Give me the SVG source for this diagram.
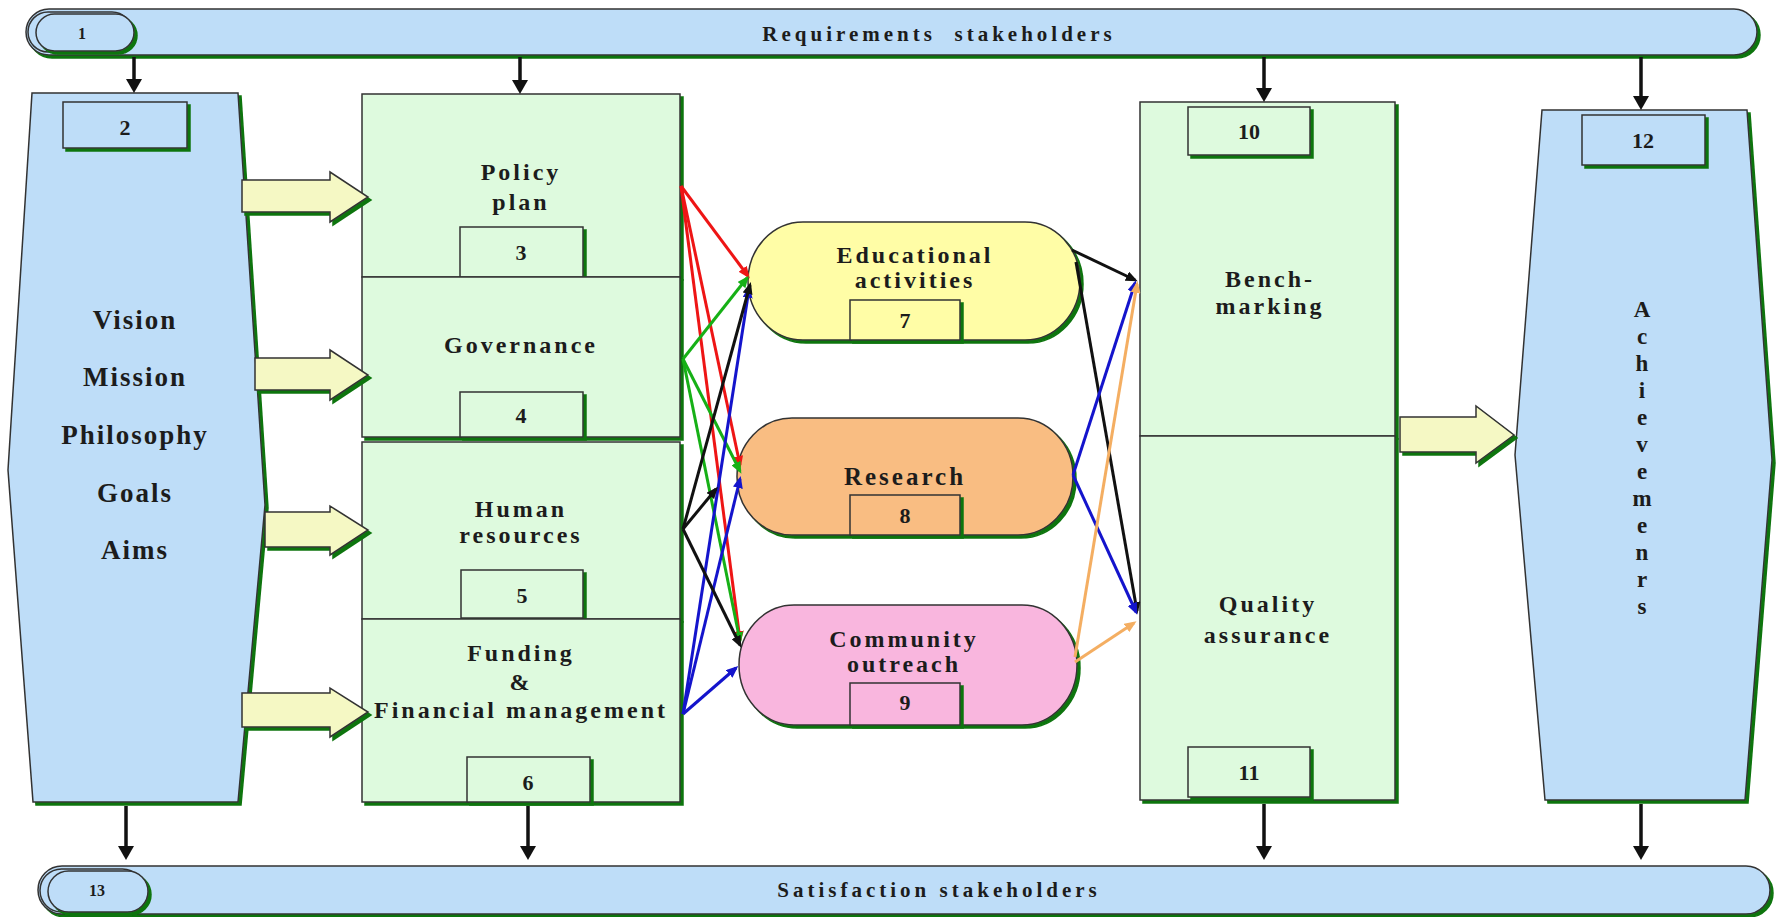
<svg xmlns="http://www.w3.org/2000/svg" width="1783" height="917" viewBox="0 0 1783 917">
  <defs>
    <style>
      .t{font-family:"Liberation Serif","Times New Roman",serif;font-weight:bold;fill:#1c1c1c;text-anchor:middle}
      .big{font-size:27px;letter-spacing:2px}
      .mid{font-size:24px;letter-spacing:3px}
      .res{font-size:25px;letter-spacing:3px}
      .num{font-size:22px}
      .vt{font-size:23px}
      .ban{font-size:21px;letter-spacing:4px}
      .tag{font-size:16px}
      .edge{stroke:#333;stroke-width:1.5}
      .blue{fill:#BEDDF8}
      .green{fill:#DEFADE}
      .blk{fill:#F5F8C4;stroke:#333;stroke-width:1.5;filter:url(#sh)}
      .v{stroke:#111;stroke-width:3.5;fill:none;marker-end:url(#mv)}
      .f{fill:none;stroke-width:3}
      .r{stroke:#EE1515;marker-end:url(#mr)}
      .g{stroke:#16B016;marker-end:url(#mg)}
      .k{stroke:#111;marker-end:url(#mk)}
      .b{stroke:#1414CC;marker-end:url(#mb)}
      .o{stroke:#F4AE62;marker-end:url(#mo)}
    </style>
    <!-- flat dark-green drop shadow used on every shape -->
    <filter id="sh" x="-5%" y="-5%" width="115%" height="115%">
      <feFlood flood-color="#0b740b" result="f"/>
      <feComposite in="f" in2="SourceAlpha" operator="in" result="s"/>
      <feOffset in="s" dx="3" dy="3" result="o"/>
      <feMerge><feMergeNode in="o"/><feMergeNode in="SourceGraphic"/></feMerge>
    </filter>
    <marker id="mv" viewBox="0 0 14 16" refX="6" refY="8" markerWidth="14" markerHeight="16" orient="auto" markerUnits="userSpaceOnUse"><path d="M0,0 L14,8 L0,16 z" fill="#111"/></marker>
    <marker id="mr" viewBox="0 0 12 10" refX="9" refY="5" markerWidth="12" markerHeight="10" orient="auto" markerUnits="userSpaceOnUse"><path d="M0,0 L12,5 L0,10 z" fill="#EE1515"/></marker>
    <marker id="mg" viewBox="0 0 12 10" refX="9" refY="5" markerWidth="12" markerHeight="10" orient="auto" markerUnits="userSpaceOnUse"><path d="M0,0 L12,5 L0,10 z" fill="#16B016"/></marker>
    <marker id="mk" viewBox="0 0 12 10" refX="9" refY="5" markerWidth="12" markerHeight="10" orient="auto" markerUnits="userSpaceOnUse"><path d="M0,0 L12,5 L0,10 z" fill="#111"/></marker>
    <marker id="mb" viewBox="0 0 12 10" refX="9" refY="5" markerWidth="12" markerHeight="10" orient="auto" markerUnits="userSpaceOnUse"><path d="M0,0 L12,5 L0,10 z" fill="#1414CC"/></marker>
    <marker id="mo" viewBox="0 0 12 10" refX="9" refY="5" markerWidth="12" markerHeight="10" orient="auto" markerUnits="userSpaceOnUse"><path d="M0,0 L12,5 L0,10 z" fill="#F4AE62"/></marker>
  </defs>

  <rect width="1783" height="917" fill="#fff"/>

  <!-- 1: top banner -->
  <g id="n1">
    <rect x="26" y="9" width="1731" height="46" rx="23" class="blue edge" filter="url(#sh)"/>
    <rect x="28" y="12" width="104" height="40" rx="20" class="blue edge"/>
    <rect x="36" y="14" width="98" height="37" rx="18.5" class="blue edge" filter="url(#sh)"/>
    <text x="82" y="39" class="t tag">1</text>
    <text x="939" y="41" class="t ban" xml:space="preserve">Requirements  stakeholders</text>
  </g>

  <!-- 2: vision / mission block -->
  <g id="n2">
    <path d="M32,93 H238 L265,505 L238,802 H33 L8,470 Z" class="blue edge" filter="url(#sh)"/>
    <rect x="63" y="102" width="124" height="46" class="blue edge" filter="url(#sh)"/>
    <text x="125" y="135" class="t num">2</text>
    <text x="135" y="329" class="t big">Vision</text>
    <text x="135" y="386" class="t big">Mission</text>
    <text x="135" y="444" class="t big">Philosophy</text>
    <text x="135" y="502" class="t big">Goals</text>
    <text x="135" y="559" class="t big">Aims</text>
  </g>

  <!-- 3-6: management column -->
  <g id="n3">
    <rect x="362" y="94" width="318" height="183" class="green edge" filter="url(#sh)"/>
    <text x="521" y="180" class="t mid">Policy</text>
    <text x="521" y="210" class="t mid">plan</text>
    <rect x="460" y="227" width="123" height="50" class="green edge" filter="url(#sh)"/>
    <text x="521" y="260" class="t num">3</text>
  </g>
  <g id="n4">
    <rect x="362" y="277" width="318" height="160" class="green edge" filter="url(#sh)"/>
    <text x="521" y="353" class="t mid">Governance</text>
    <rect x="460" y="392" width="123" height="45" class="green edge" filter="url(#sh)"/>
    <text x="521" y="423" class="t num">4</text>
  </g>
  <g id="n5">
    <rect x="362" y="442" width="318" height="177" class="green edge" filter="url(#sh)"/>
    <text x="521" y="517" class="t mid">Human</text>
    <text x="521" y="543" class="t mid">resources</text>
    <rect x="461" y="570" width="122" height="48" class="green edge" filter="url(#sh)"/>
    <text x="522" y="603" class="t num">5</text>
  </g>
  <g id="n6">
    <rect x="362" y="619" width="318" height="183" class="green edge" filter="url(#sh)"/>
    <text x="521" y="661" class="t mid">Funding</text>
    <text x="521" y="690" class="t mid">&amp;</text>
    <text x="521" y="718" class="t mid">Financial management</text>
    <rect x="467" y="757" width="123" height="45" class="green edge" filter="url(#sh)"/>
    <text x="528" y="790" class="t num">6</text>
  </g>

  <!-- 7-9: activities -->
  <g id="n7">
    <rect x="748" y="222" width="332" height="118" rx="55" ry="59" fill="#FFFDA6" class="edge" filter="url(#sh)"/>
    <text x="915" y="263" class="t mid">Educational</text>
    <text x="915" y="288" class="t mid">activities</text>
    <rect x="850" y="300" width="110" height="40" fill="#FFFDA6" class="edge" filter="url(#sh)"/>
    <text x="905" y="328" class="t num">7</text>
  </g>
  <g id="n8">
    <rect x="737" y="418" width="336" height="117" rx="55" ry="58" fill="#F9BD82" class="edge" filter="url(#sh)"/>
    <text x="905" y="485" class="t res">Research</text>
    <rect x="850" y="495" width="110" height="40" fill="#F9BD82" class="edge" filter="url(#sh)"/>
    <text x="905" y="523" class="t num">8</text>
  </g>
  <g id="n9">
    <rect x="739" y="605" width="338" height="120" rx="55" ry="60" fill="#F9B6DE" class="edge" filter="url(#sh)"/>
    <text x="904" y="647" class="t mid">Community</text>
    <text x="904" y="672" class="t mid">outreach</text>
    <rect x="850" y="683" width="110" height="42" fill="#F9B6DE" class="edge" filter="url(#sh)"/>
    <text x="905" y="710" class="t num">9</text>
  </g>

  <!-- 10-11: evaluation column -->
  <g id="n10">
    <rect x="1140" y="102" width="255" height="334" class="green edge" filter="url(#sh)"/>
    <rect x="1188" y="107" width="122" height="48" class="green edge" filter="url(#sh)"/>
    <text x="1249" y="139" class="t num">10</text>
    <text x="1270" y="287" class="t mid">Bench-</text>
    <text x="1270" y="314" class="t mid">marking</text>
  </g>
  <g id="n11">
    <rect x="1140" y="436" width="255" height="364" class="green edge" filter="url(#sh)"/>
    <text x="1268" y="612" class="t mid">Quality</text>
    <text x="1268" y="643" class="t mid">assurance</text>
    <rect x="1188" y="747" width="122" height="50" class="green edge" filter="url(#sh)"/>
    <text x="1249" y="780" class="t num">11</text>
  </g>

  <!-- 12: achievements -->
  <g id="n12">
    <path d="M1542,110 H1747 L1772,460 L1745,800 H1545 L1515,455 Z" class="blue edge" filter="url(#sh)"/>
    <rect x="1582" y="115" width="123" height="50" class="blue edge" filter="url(#sh)"/>
    <text x="1643" y="148" class="t num">12</text>
    <text x="1642" y="317" class="t vt">
      <tspan x="1642">A</tspan><tspan x="1642" dy="27">c</tspan><tspan x="1642" dy="27">h</tspan><tspan x="1642" dy="27">i</tspan><tspan x="1642" dy="27">e</tspan><tspan x="1642" dy="27">v</tspan><tspan x="1642" dy="27">e</tspan><tspan x="1642" dy="27">m</tspan><tspan x="1642" dy="27">e</tspan><tspan x="1642" dy="27">n</tspan><tspan x="1642" dy="27">r</tspan><tspan x="1642" dy="27">s</tspan>
    </text>
  </g>

  <!-- 13: bottom banner -->
  <g id="n13">
    <rect x="38" y="866" width="1732" height="48" rx="24" class="blue edge" filter="url(#sh)"/>
    <rect x="40" y="869" width="104" height="43" rx="21.5" class="blue edge"/>
    <rect x="48" y="871" width="100" height="41" rx="20.5" class="blue edge" filter="url(#sh)"/>
    <text x="97" y="896" class="t tag">13</text>
    <text x="939" y="897" class="t ban">Satisfaction stakeholders</text>
  </g>

  <g id="connectors">
    <!-- stakeholder arrows -->
    <path class="v" d="M134,57 V85"/>
    <path class="v" d="M520,57 V86"/>
    <path class="v" d="M1264,57 V94"/>
    <path class="v" d="M1641,57 V102"/>
    <path class="v" d="M126,806 V852"/>
    <path class="v" d="M528,806 V852"/>
    <path class="v" d="M1264,804 V852"/>
    <path class="v" d="M1641,804 V852"/>

    <!-- block arrows -->
    <path class="blk" d="M242,180 H330 V172 L368,197 L330,222 V212 H242 Z"/>
    <path class="blk" d="M255,358 H330 V350 L368,375 L330,400 V390 H255 Z"/>
    <path class="blk" d="M265,512 H330 V506 L368,530 L330,555 V547 H265 Z"/>
    <path class="blk" d="M242,693 H330 V688 L368,712 L330,737 V727 H242 Z"/>
    <path class="blk" d="M1400,417 H1476 V406 L1514,435 L1476,463 V452 H1400 Z"/>

    <!-- resources to activities -->
    <path class="f r" d="M681,186 L748,276"/>
    <path class="f r" d="M681,186 L740,465"/>
    <path class="f r" d="M681,186 L740,640"/>
    <path class="f g" d="M683,359 L747,278"/>
    <path class="f g" d="M683,359 L740,471"/>
    <path class="f g" d="M683,359 L740,641"/>
    <path class="f b" d="M683,714 L749,289"/>
    <path class="f b" d="M683,714 L740,479"/>
    <path class="f b" d="M683,714 L736,668"/>
    <path class="f k" d="M683,529 L750,285"/>
    <path class="f k" d="M683,529 L716,489"/>
    <path class="f k" d="M683,529 L740,645"/>

    <!-- activities to evaluation -->
    <path class="f k" d="M1072,250 L1135,280"/>
    <path class="f k" d="M1076,262 L1137,611"/>
    <path class="f b" d="M1073,475 L1135,283"/>
    <path class="f b" d="M1073,475 L1136,612"/>
    <path class="f o" d="M1075,657 L1137,284"/>
    <path class="f o" d="M1075,662 L1134,623"/>
  </g>
</svg>
